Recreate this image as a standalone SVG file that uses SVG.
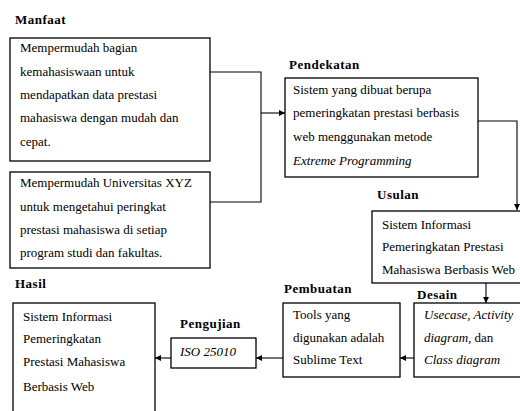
<svg xmlns="http://www.w3.org/2000/svg" width="520" height="411" viewBox="0 0 520 411" font-family="'Times New Roman', 'Liberation Serif', serif">
<defs>
<marker id="ah" viewBox="0 0 8 8" refX="8" refY="4" markerWidth="6" markerHeight="6" orient="auto" markerUnits="userSpaceOnUse">
<path d="M0,0 L8,4 L0,8 z" fill="#000"/>
</marker>
<style>
.box{fill:#fff;stroke:#000;stroke-width:1.3}
.t{font-size:13px;fill:#000}
.lbl{font-size:13px;font-weight:bold;letter-spacing:0.5px;fill:#000}
.i{font-style:italic}
.c{fill:none;stroke:#000;stroke-width:1.1}
</style>
</defs>
<rect width="520" height="411" fill="#fff"/>
<g id="connectors">
<polyline class="c" points="210,72 261,72 261,202 210,202"/>
<line class="c" x1="261" y1="113" x2="285" y2="113" marker-end="url(#ah)"/>
<polyline class="c" points="478,121 517,121 517,210" marker-end="url(#ah)"/>
<line class="c" x1="486" y1="283" x2="486" y2="303" marker-end="url(#ah)"/>
<line class="c" x1="414" y1="358" x2="400" y2="358" marker-end="url(#ah)"/>
<line class="c" x1="283" y1="358" x2="256" y2="358" marker-end="url(#ah)"/>
<line class="c" x1="171" y1="358" x2="155" y2="358" marker-end="url(#ah)"/>
</g>
<g id="manfaat1">
<text class="lbl" x="15" y="24">Manfaat</text>
<rect class="box" x="10" y="38" width="200" height="123"/>
<text class="t" x="20" y="52">Mempermudah bagian</text>
<text class="t" x="20" y="76">kemahasiswaan untuk</text>
<text class="t" x="20" y="99">mendapatkan data prestasi</text>
<text class="t" x="20" y="122">mahasiswa dengan mudah dan</text>
<text class="t" x="20" y="146">cepat.</text>
</g>
<g id="manfaat2">
<rect class="box" x="10" y="172" width="200" height="96"/>
<text class="t" x="20" y="187">Mempermudah Universitas XYZ</text>
<text class="t" x="20" y="211">untuk mengetahui peringkat</text>
<text class="t" x="20" y="234">prestasi mahasiswa di setiap</text>
<text class="t" x="20" y="257">program studi dan fakultas.</text>
</g>
<g id="pendekatan">
<text class="lbl" x="289" y="69">Pendekatan</text>
<rect class="box" x="285" y="78" width="193" height="99"/>
<text class="t" x="293" y="94">Sistem yang dibuat berupa</text>
<text class="t" x="293" y="117">pemeringkatan prestasi berbasis</text>
<text class="t" x="293" y="141">web menggunakan metode</text>
<text class="t i" x="293" y="165">Extreme Programming</text>
</g>
<g id="usulan">
<text class="lbl" x="377" y="199">Usulan</text>
<rect class="box" x="372" y="211" width="160" height="72"/>
<text class="t" x="382" y="229">Sistem Informasi</text>
<text class="t" x="382" y="251">Pemeringkatan Prestasi</text>
<text class="t" x="382" y="274">Mahasiswa Berbasis Web</text>
</g>
<g id="desain">
<text class="lbl" x="417" y="299">Desain</text>
<rect class="box" x="414" y="303" width="120" height="74"/>
<text class="t i" x="424" y="319">Usecase, Activity</text>
<text class="t" x="424" y="342"><tspan class="i">diagram,</tspan> dan</text>
<text class="t i" x="424" y="364">Class diagram</text>
</g>
<g id="pembuatan">
<text class="lbl" x="284" y="293">Pembuatan</text>
<rect class="box" x="283" y="303" width="117" height="74"/>
<text class="t" x="293" y="319">Tools yang</text>
<text class="t" x="293" y="342">digunakan adalah</text>
<text class="t" x="293" y="364">Sublime Text</text>
</g>
<g id="pengujian">
<text class="lbl" x="180" y="328">Pengujian</text>
<rect class="box" x="171" y="338" width="85" height="30"/>
<text class="t i" x="180" y="356">ISO 25010</text>
</g>
<g id="hasil">
<text class="lbl" x="15" y="288">Hasil</text>
<rect class="box" x="13" y="303" width="142" height="120"/>
<text class="t" x="23" y="321">Sistem Informasi</text>
<text class="t" x="23" y="343">Pemeringkatan</text>
<text class="t" x="23" y="366">Prestasi Mahasiswa</text>
<text class="t" x="23" y="391">Berbasis Web</text>
</g>
</svg>
